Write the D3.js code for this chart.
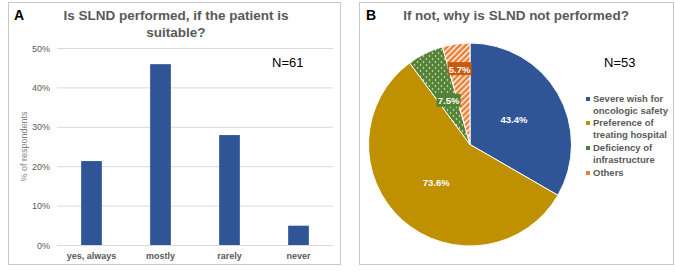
<!DOCTYPE html>
<html>
<head>
<meta charset="utf-8">
<script src="https://cdn.jsdelivr.net/npm/d3@7"></script>
<style>
  body { margin: 0; background: #fff; }
  svg { font-family: "Liberation Sans", Arial, sans-serif; }
</style>
</head>
<body>
<svg id="chart" width="675" height="276"></svg>
<script>
// bar chart data (panel A)
const barCats = ["yes, always", "mostly", "rarely", "never"];
const barVals = [0.213, 0.459, 0.279, 0.049];
const yTicks = [0, 0.1, 0.2, 0.3, 0.4, 0.5];

// pie data (panel B)
const pieCats = ["Severe wish for|oncologic safety", "Preference of|treating hospital", "Deficiency of|infrastructure", "Others"];
const pieVals = [43.4, 73.6, 7.5, 5.7];
const pieColors = ["#2F5597", "#BF9000", "#548235", "#ED7D31"];

const svg = d3.select("#chart");
const grey = "#595959";

// patterns for green dots and orange stripes
const defs = svg.append("defs");
const dots = defs.append("pattern").attr("id", "dots")
  .attr("width", 6).attr("height", 6).attr("patternUnits", "userSpaceOnUse");
dots.append("rect").attr("width", 6).attr("height", 6).attr("fill", pieColors[2]);
dots.append("circle").attr("cx", 1.5).attr("cy", 1.5).attr("r", 0.8).attr("fill", "#fff");
dots.append("circle").attr("cx", 4.5).attr("cy", 4.5).attr("r", 0.8).attr("fill", "#fff");
const stripes = defs.append("pattern").attr("id", "stripes")
  .attr("width", 4).attr("height", 4).attr("patternUnits", "userSpaceOnUse")
  .attr("patternTransform", "rotate(45)");
stripes.append("rect").attr("width", 4).attr("height", 4).attr("fill", pieColors[3]);
stripes.append("rect").attr("width", 1.4).attr("height", 4).attr("fill", "#fff");

// panel frames
svg.append("rect").attr("x", 8.5).attr("y", 2.5).attr("width", 332).attr("height", 262)
  .attr("fill", "none").attr("stroke", "#c8c8c8");
svg.append("rect").attr("x", 359.5).attr("y", 2.5).attr("width", 314).attr("height", 262)
  .attr("fill", "none").attr("stroke", "#c8c8c8");

// ---------- Panel A ----------
const gA = svg.append("g");
gA.append("text").attr("x", 14).attr("y", 20).attr("font-size", 14).attr("font-weight", "bold").text("A");
gA.append("text").attr("x", 176).attr("y", 20).attr("text-anchor", "middle")
  .attr("font-size", 13.5).attr("font-weight", "bold").attr("fill", grey)
  .text("Is SLND performed, if the patient is");
gA.append("text").attr("x", 176).attr("y", 37).attr("text-anchor", "middle")
  .attr("font-size", 13.5).attr("font-weight", "bold").attr("fill", grey)
  .text("suitable?");

const x = d3.scaleBand().domain(barCats).range([57, 333]).paddingInner(0.7).paddingOuter(0.35);
const y = d3.scaleLinear().domain([0, 0.5]).range([245, 48]);

gA.selectAll(".grid").data(yTicks).join("line")
  .attr("x1", 57).attr("x2", 333)
  .attr("y1", d => y(d) + 0.5).attr("y2", d => y(d) + 0.5)
  .attr("stroke", "#d9d9d9");

gA.selectAll(".ytick").data(yTicks).join("text")
  .attr("x", 50).attr("y", d => y(d) + 3.5).attr("text-anchor", "end")
  .attr("font-size", 9).attr("fill", grey)
  .text(d => d3.format(".0%")(d));

gA.append("text").attr("transform", `translate(27,${y(0.25)}) rotate(-90)`)
  .attr("text-anchor", "middle").attr("font-size", 9).attr("fill", "#7f7f7f")
  .text("% of respondents");

gA.selectAll(".bar").data(barVals).join("rect")
  .attr("x", (d, i) => x(barCats[i])).attr("width", x.bandwidth())
  .attr("y", d => y(d)).attr("height", d => y(0) - y(d))
  .attr("fill", "#2F5597");

gA.selectAll(".xlab").data(barCats).join("text")
  .attr("x", d => x(d) + x.bandwidth() / 2).attr("y", 259).attr("text-anchor", "middle")
  .attr("font-size", 9).attr("font-weight", "bold").attr("fill", grey)
  .text(d => d);

gA.append("text").attr("x", 272).attr("y", 67).attr("font-size", 13).text("N=61");

// ---------- Panel B ----------
const gB = svg.append("g");
gB.append("text").attr("x", 366).attr("y", 20).attr("font-size", 14).attr("font-weight", "bold").text("B");
gB.append("text").attr("x", 516).attr("y", 20).attr("text-anchor", "middle")
  .attr("font-size", 13.5).attr("font-weight", "bold").attr("fill", grey)
  .text("If not, why is SLND not performed?");

const cx = 470, cy = 144.5, r = 101.5;
const pie = d3.pie().sort(null).value(d => d);
const arcs = pie(pieVals);
const arc = d3.arc().innerRadius(0).outerRadius(r);
const fills = [pieColors[0], pieColors[1], "url(#dots)", "url(#stripes)"];

const gPie = gB.append("g").attr("transform", `translate(${cx},${cy})`);
gPie.selectAll("path").data(arcs).join("path")
  .attr("d", arc).attr("fill", (d, i) => fills[i])
  .attr("stroke", "#fff").attr("stroke-width", 1);

// data labels
const labelR = [0.5, 0.5, 0.48, 0.75];
const boxFill = [null, null, "#548235", "#C55A11"];
arcs.forEach((a, i) => {
  const lr = r * labelR[i];
  const [lx, ly] = d3.arc().innerRadius(lr).outerRadius(lr).centroid(a);
  const txt = d3.format(".1f")(pieVals[i]) + "%";
  if (boxFill[i]) {
    gPie.append("rect").attr("x", lx - 12).attr("y", ly - 7).attr("width", 24).attr("height", 13)
      .attr("fill", boxFill[i]);
  }
  gPie.append("text").attr("x", lx).attr("y", ly + 3.5).attr("text-anchor", "middle")
    .attr("font-size", 9.5).attr("font-weight", "bold").attr("fill", "#fff").text(txt);
});

gB.append("text").attr("x", 604).attr("y", 67).attr("font-size", 13).text("N=53");

// legend
const legY = [102, 126, 151, 176];
const leg = gB.selectAll(".leg").data(pieCats).join("g")
  .attr("transform", (d, i) => `translate(586,${legY[i]})`);
leg.append("rect").attr("x", 0).attr("y", -5).attr("width", 4).attr("height", 4)
  .attr("fill", (d, i) => pieColors[i]);
leg.append("text").attr("x", 7).attr("y", 0).attr("font-size", 9.5)
  .attr("font-weight", "bold").attr("fill", grey)
  .selectAll("tspan").data(d => d.split("|")).join("tspan")
  .attr("x", 7).attr("dy", (d, j) => j === 0 ? 0 : 11.5).text(d => d);
</script>
</body>
</html>
